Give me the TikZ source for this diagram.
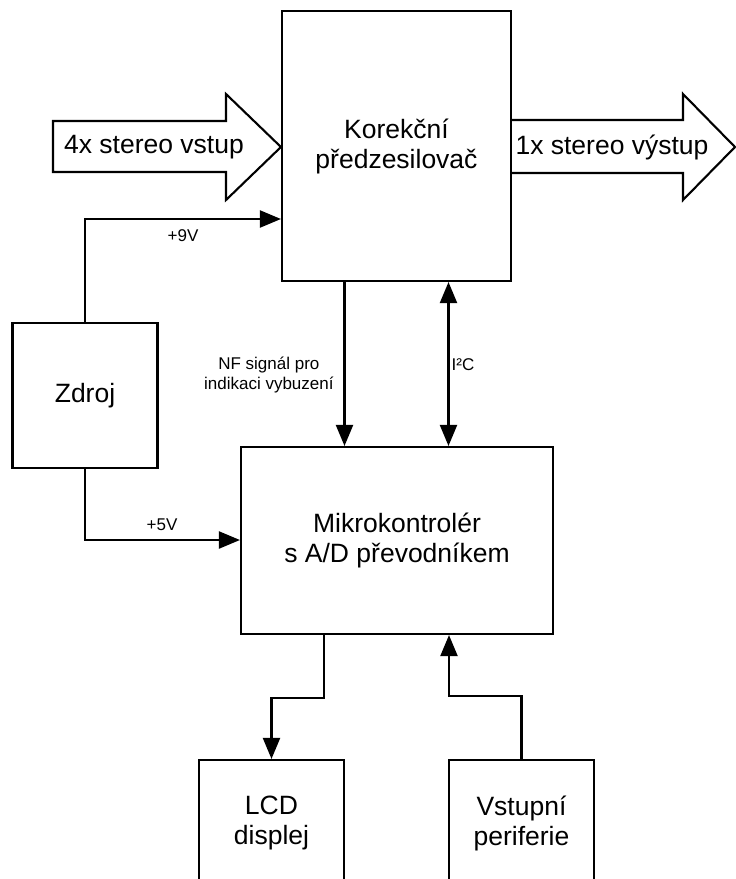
\documentclass[tikz,border=0pt]{standalone}
\usepackage{fontspec}
\setmainfont{Liberation Sans}
\usepackage{tikz}
\usetikzlibrary{arrows.meta,positioning,calc}

\begin{document}
\begin{tikzpicture}[
  x=1pt, y=-1pt,
  line width=2.1pt,
  box/.style={draw, rectangle, align=center, font=\fontsize{26.5}{30}\selectfont},
  lbl/.style={align=center, font=\fontsize{17}{20}\selectfont},
  big/.style={font=\fontsize{26.5}{30}\selectfont},
  >={Triangle[length=21pt,width=17pt]}
]
  \useasboundingbox (0,0) rectangle (736,879);
  \clip (0,0) rectangle (736,879);

  \node[box, minimum width=229pt, minimum height=270pt] (pre) at (396.5,146) {Korekční\\předzesilovač};
  \node[box, minimum width=312pt, minimum height=187pt] (mcu) at (397,540.5) {Mikrokontrolér\\s A/D převodníkem};
  \node[box, minimum width=145pt, minimum height=145pt] (zdroj) at (85,395.5) {Zdroj};
  \node[box, minimum width=145pt, minimum height=126pt] (lcd) at (271.5,823) {LCD\\displej};
  \node[box, minimum width=145pt, minimum height=126pt] (per) at (521.5,823) {Vstupní\\periferie};

  % signal arrows in and out
  \draw (53,121) -- (226,121) -- (226,94) -- (pre.west |- 0,147) -- (226,200) -- (226,172) -- (53,172) -- cycle;
  \node[big] (in) at (154,147) {4x stereo vstup};
  \draw (pre.east |- 0,120) -- (683,120) -- (683,94) -- (735,147) -- (683,200) -- (683,173) -- (pre.east |- 0,173);
  \node[big] (out) at (612,147) {1x stereo výstup};

  % power
  \coordinate (v9) at (85,219);
  \coordinate (v5) at (85,540);
  \draw[->] (zdroj.north) -- (v9) -- (v9 -| pre.west);
  \draw[->] (zdroj.south) -- (v5) -- (v5 -| mcu.west);
  \node[lbl] (u9) at (183,236) {+9V};
  \node[lbl] (u5) at (162,525) {+5V};

  % preamp <-> mcu
  \draw[->] ([xshift=-52pt]pre.south) -- ([xshift=-52pt]pre.south |- mcu.north);
  \draw[<->] ([xshift=52pt]pre.south) -- ([xshift=52pt]pre.south |- mcu.north);
  \node[lbl, anchor=east] (nf) at (338,375) {NF signál pro\\indikaci vybuzení};
  \node[lbl] (i2c) at (463,365) {I²C};

  % mcu <-> periphery
  \draw[->] ([xshift=-73pt]mcu.south) -- ++(0,63) -| (lcd.north);
  \draw[->] (per.north) -- ++(0,-63) -| ([xshift=52pt]mcu.south);
\end{tikzpicture}
\end{document}
